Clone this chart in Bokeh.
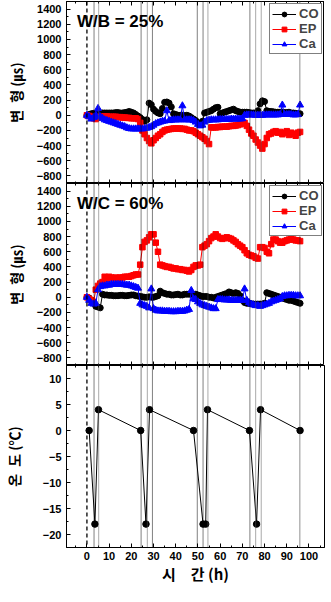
from bokeh.plotting import figure
from bokeh.models import Range1d, FixedTicker, LinearAxis, Span, Label, CustomLabelingPolicy
from bokeh.layouts import column
from bokeh.embed import file_html
from bokeh.resources import INLINE

# ---------------- data ----------------
hours = list(range(0, 97))

wb_co = [0, 10, 20, 25, 20, 30, 30, 30, 30, 30,
         30, 30, 30, 35, 35, 30, 30, 35, 40, 50,
         40, 30, 10, -10, -30, -55, -80, -60, 160, 140,
         80, 50, 30, 20, 90, 170, 175, 160, 110, 20,
         10, 0, 0, 0, -5, 0, -10, -30, -50, -70,
         -100, -110, -80, 30, 40, 50, 60, 80, 100, 105,
         20, 30, 40, 50, 60, 70, 80, 60, 50, 40,
         40, 40, 40, 35, 30, 30, 30, 60, 150, 190,
         180, 60, 50, 50, 45, 40, 40, 40, 40, 35,
         35, 40, 30, 30, 25, 20, 20]

wb_ep = [0, -10, -20, -40, -50, -30, -20, -20, -15, -15,
         -20, -20, -20, -20, -25, -25, -30, -30, -35, -35,
         -40, -40, -40, -50, -100, -200, -250, -300, -340, -370,
         -330, -300, -270, -250, -220, -200, -190, -185, -180, -175,
         -175, -175, -175, -180, -180, -190, -200, -200, -210, -230,
         -250, -270, -290, -310, -340, -380, -160, -160, -160, -155,
         -155, -150, -150, -150, -145, -140, -140, -135, -130, -120,
         -110, -100, -140, -190, -240, -270, -320, -360, -400, -440,
         -380, -300, -250, -240, -220, -210, -230, -220, -250, -230,
         -210, -260, -230, -250, -270, -230, -220]

wb_ca = [0, -20, -50, -30, 0, 90, -20, -40, -60, -70,
         -80, -90, -100, -110, -120, -130, -140, -150, -165, -175,
         -180, -180, -180, -180, -180, -180, -175, -170, -160, -150,
         -130, -110, -100, -90, -80, -75, 60, -70, -65, -60,
         -60, -60, -60, 125, -60, -60, -60, -60, -70, -90,
         -120, -140, -130, -90, -70, -65, -60, -60, -60, -60,
         -55, -55, -55, -55, -55, -50, -50, -50, -50, -50,
         -45, 0, 5, 5, 5, 5, 0, 0, 0, 0,
         5, 5, 5, 5, 5, 5, 5, 10, 135, 10,
         10, 10, 10, 5, 5, 10, 135]

wc_co = [0, -10, -40, -80, -120, -130, -140, 40, 30, 30,
         25, 25, 20, 20, 20, 25, 25, 20, 20, 25,
         30, 30, 20, 15, 10, 5, 0, 0, 5, 0,
         0, 10, 20, 80, 60, 50, 40, 40, 30, 30,
         35, 40, 30, 30, 40, 40, 40, 40, 40, 40,
         30, 20, 10, 10, 10, 0, 0, -10, 0, 10,
         20, 30, 40, 50, 70, 60, 50, 60, 50, 20,
         -40, -70, -80, -80, -85, -90, -90, -90, -90, -90,
         -80, 60, 50, 40, 30, 20, 10, 0, -10, -20,
         -30, -40, -40, -50, -60, -70, -80]

wc_ep = [0, -20, -40, -60, 100, 150, 180, 200, 270, 240,
         270, 260, 250, 260, 250, 260, 260, 270, 270, 270,
         280, 290, 300, 300, 430, 660, 730, 750, 790, 830,
         830, 720, 600, 430, 420, 410, 400, 400, 390, 380,
         380, 370, 370, 360, 360, 350, 340, 360, 400, 420,
         420, 430, 660, 680, 700, 740, 780, 800, 830, 800,
         780, 770, 780, 790, 780, 770, 750, 730, 700, 680,
         660, 620, 580, 560, 550, 540, 520, 510, 660, 660,
         650, 600, 580, 700, 760, 760, 740, 720, 720, 740,
         750, 760, 770, 760, 750, 750, 740]

wc_ca = [0, -40, -80, -90, -80, 100, 140, 150, 150, 160,
         160, 170, 170, 170, 170, 170, 170, 165, 160, 160,
         150, 140, 130, 120, -80, -100, -110, -120, -140, 110,
         -150, -170, -180, -180, -180, -185, -185, -185, -190, -190,
         -190, -185, -185, -185, -180, -170, -160, 90, -20, -30,
         -60, -80, -100, -110, -120, -130, -140, -150, -150, -30,
         -30, -30, -35, -35, -35, -40, -40, -40, -40, -40,
         -40, 110, -40, -70, -90, -100, -110, -110, -120, -110,
         -100, -90, -80, -60, -50, -40, -30, -20, 10, 20,
         20, 25, 25, 25, 20, 20, 20]

temp_time = [1.0, 3.6, 5.2, 24.2, 26.6, 28.2, 48.0, 52.3, 53.5, 54.3, 73.2, 76.4, 78.2, 96.0]
temp_val = [0, -18, 4, 0, -18, 4, 0, -18, -18, 4, 0, -18, 4, 0]

start_time = [0]
event_times = [3.2, 5.3, 24.4, 27.2, 29.5, 49.7, 52.3, 54.5, 73.4, 76.0, 78.5, 95.9]
event_shade = ["#000000", "#555555", "#000000", "#555555", "#000000", "#000000",
               "#000000", "#555555", "#000000", "#555555", "#555555", "#222222"]

x_major = [0, 10, 20, 30, 40, 50, 60, 70, 80, 90, 100]
x_minor = [-5, 5, 15, 25, 35, 45, 55, 65, 75, 85, 95, 105]
strain_major = [-800, -600, -400, -200, 0, 200, 400, 600, 800, 1000, 1200, 1400]
strain_minor = [-900, -700, -500, -300, -100, 100, 300, 500, 700, 900, 1100, 1300, 1500]
temp_major = [-20, -15, -10, -5, 0, 5, 10]
temp_minor = [-22.5, -17.5, -12.5, -7.5, -2.5, 2.5, 7.5, 12.5]

# ---------------- layout ----------------
FW = 258
FH = 182
XR = (-9.2, 107)
NUM = "Liberation Sans"
KR = "Noto Sans CJK KR"

NO_LABELS = """
try { indices.clear() } catch (e) {
  for (const i of Array.from(indices)) { indices.unset(i) }
}
return indices
"""


def style_axis(ax, labels=True):
    ax.axis_line_color = "black"
    ax.axis_line_width = 1
    ax.major_tick_in = 4
    ax.major_tick_out = 0
    ax.minor_tick_in = 2
    ax.minor_tick_out = 0
    ax.major_tick_line_color = "black"
    ax.minor_tick_line_color = "black"
    ax.major_label_text_font = NUM
    ax.major_label_text_font_style = "bold"
    ax.major_label_text_color = "black"
    if labels:
        ax.major_label_text_font_size = "11px"
        ax.major_label_standoff = 5
    else:
        ax.major_label_text_font_size = "0px"
        ax.major_label_standoff = 0
        ax.major_label_policy = CustomLabelingPolicy(code=NO_LABELS)


def make_fig(yr, ymaj, ymin, top_border, bottom_border, show_x):
    p = figure(frame_width=FW, frame_height=FH,
               x_range=Range1d(*XR), y_range=Range1d(*yr),
               output_backend="svg", toolbar_location=None,
               min_border_left=56, min_border_right=2,
               min_border_top=top_border, min_border_bottom=bottom_border,
               background_fill_color="white", border_fill_color="white")
    p.grid.visible = False
    p.outline_line_color = "black"
    p.outline_line_width = 1
    bottom = p.below[0]
    left = p.left[0]
    bottom.ticker = FixedTicker(ticks=x_major, minor_ticks=x_minor)
    left.ticker = FixedTicker(ticks=ymaj, minor_ticks=ymin)
    style_axis(bottom, show_x)
    style_axis(left, True)
    top = LinearAxis(ticker=FixedTicker(ticks=x_major, minor_ticks=x_minor))
    style_axis(top, False)
    p.add_layout(top, "above")
    p.add_layout(Span(location=start_time[0], dimension="height", line_color="black",
                      line_dash="4 3", line_width=1.3))
    for t, c in zip(event_times, event_shade):
        p.add_layout(Span(location=t, dimension="height", line_color=c,
                          line_dash="1 1", line_width=1))
    return p, bottom, left


def style_ylabel(ax, text, standoff):
    ax.axis_label = text
    ax.axis_label_text_font = KR
    ax.axis_label_text_font_style = "bold"
    ax.axis_label_text_font_size = "14px"
    ax.axis_label_text_color = "black"
    ax.axis_label_standoff = standoff


def add_series(p, co, ep, ca):
    p.line(hours, co, line_color="black", line_width=1, legend_label="CO")
    p.scatter(hours, co, marker="circle", size=6, color="black", legend_label="CO")
    p.line(hours, ep, line_color="red", line_width=1, legend_label="EP")
    p.scatter(hours, ep, marker="square", size=5.5, color="red", legend_label="EP")
    p.line(hours, ca, line_color="blue", line_width=1, legend_label="Ca")
    p.scatter(hours, ca, marker="triangle", size=7, color="blue", legend_label="Ca")
    lg = p.legend[0]
    lg.location = "top_right"
    lg.margin = 2
    lg.padding = 2
    lg.spacing = 0
    lg.label_text_font = NUM
    lg.label_text_font_style = "bold"
    lg.label_text_font_size = "13px"
    lg.label_height = 12
    lg.glyph_height = 12
    lg.glyph_width = 24
    lg.label_standoff = 3
    lg.border_line_color = "black"
    lg.border_line_width = 1
    lg.background_fill_alpha = 1


def add_title(p, text, y):
    p.add_layout(Label(x=-4.5, y=y, text=text, text_font=NUM, text_font_style="bold",
                       text_font_size="17px", text_baseline="alphabetic", text_color="black"))


STRAIN = "변\u2002형 (㎲)"
TEMP = "온\u2002도 (℃)"
TIME = "시\u2003간 (h)"

# panel 1
p1, b1, l1 = make_fig((-900, 1500), strain_major, strain_minor, 1, 0, False)
style_ylabel(l1, STRAIN, 8)
add_series(p1, wb_co, wb_ep, wb_ca)
add_title(p1, "W/B = 25%", 1240)

# panel 2
p2, b2, l2 = make_fig((-900, 1500), strain_major, strain_minor, 0, 0, False)
style_ylabel(l2, STRAIN, 8)
add_series(p2, wc_co, wc_ep, wc_ca)
add_title(p2, "W/C = 60%", 1240)

# panel 3
p3, b3, l3 = make_fig((-22.5, 12.5), temp_major, temp_minor, 0, 0, True)
style_ylabel(l3, TEMP, 16)
p3.line(temp_time, temp_val, line_color="black", line_width=1)
p3.scatter(temp_time, temp_val, marker="circle", size=6.5, color="black")
b3.major_label_standoff = 4
b3.axis_label = TIME
b3.axis_label_text_font = KR
b3.axis_label_text_font_style = "bold"
b3.axis_label_text_font_size = "15px"
b3.axis_label_text_color = "black"
b3.axis_label_standoff = 0

layout = column(p1, p2, p3)
open("out.html", "w").write(file_html(layout, INLINE))
